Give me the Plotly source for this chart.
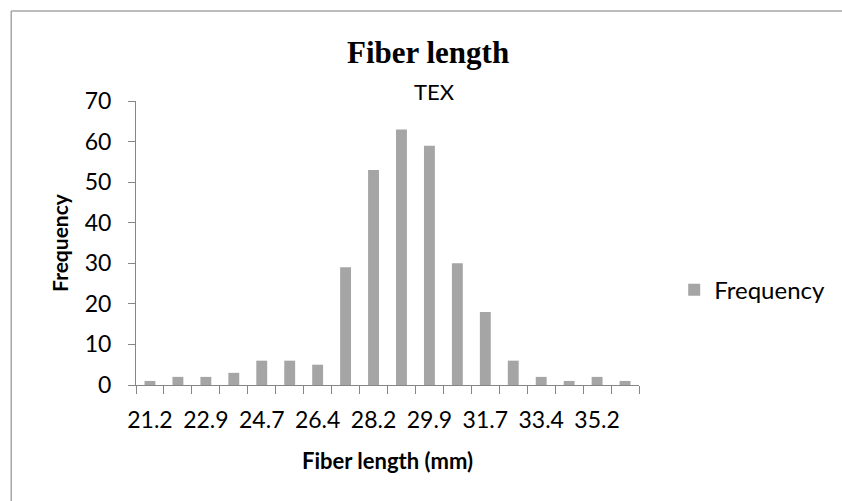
import plotly.graph_objects as go

# Fiber length classes (mm) and counts per class
length_mm = ["21.2", "22.1", "22.9", "23.8", "24.7", "25.6", "26.4", "27.3", "28.2",
             "29.0", "29.9", "30.8", "31.7", "32.5", "33.4", "34.3", "35.2", "36.0"]
frequency = [1, 2, 2, 3, 6, 6, 5, 29, 53, 63, 59, 30, 18, 6, 2, 1, 2, 1]

# Only every other class gets a label on the axis
tick_text = [lab if i % 2 == 0 else "" for i, lab in enumerate(length_mm)]

BAR = "#a5a5a5"
AXIS = "#868686"
FRAME = "#a6a6a6"
SANS = "Lato"

# plot area in pixels: x 136..644, y 101..385
def px_x(p):
    return (p - 136) / 508

def px_y(p):
    return (385 - p) / 284

fig = go.Figure()
fig.add_trace(go.Bar(
    x=length_mm, y=frequency, name="Frequency",
    marker=dict(color=BAR, line=dict(width=0)),
))

fig.update_layout(
    width=842, height=501,
    margin=dict(l=136, r=198, t=101, b=116),
    paper_bgcolor="white", plot_bgcolor="white",
    bargap=0.61,
    font=dict(family=SANS, color="black"),
    title=dict(
        text="<b>Fiber length</b>",
        font=dict(family="Liberation Serif", size=31, color="black"),
        x=px_x(431), xref="paper", xanchor="center",
        y=1 - 52 / 501, yanchor="middle",
    ),
    showlegend=True,
    legend=dict(
        x=1.07, xanchor="left", y=0.334, yanchor="middle",
        font=dict(family=SANS, size=24, color="black"),
        bgcolor="rgba(0,0,0,0)",
    ),
    annotations=[dict(
        text="TEX", xref="paper", yref="paper",
        x=px_x(437), y=px_y(91),
        xanchor="center", yanchor="middle", showarrow=False,
        font=dict(family=SANS, size=22, color="black"),
    )],
    # chart frame: top and left edges
    shapes=[
        dict(type="line", xref="paper", yref="paper",
             x0=px_x(10), x1=px_x(860), y0=px_y(11), y1=px_y(11),
             line=dict(color=FRAME, width=1.5), layer="below"),
        dict(type="line", xref="paper", yref="paper",
             x0=px_x(10), x1=px_x(10), y0=px_y(11), y1=px_y(520),
             line=dict(color=FRAME, width=1.5), layer="below"),
    ],
)

fig.update_xaxes(
    type="category",
    tickmode="array", tickvals=length_mm, ticktext=tick_text,
    tickangle=0,
    tickson="boundaries", ticks="outside", ticklen=8, tickcolor=AXIS, tickwidth=1,
    showline=True, linecolor=AXIS, linewidth=1,
    showgrid=False, zeroline=False,
    tickfont=dict(family=SANS, size=23, color="black"),
    ticklabelstandoff=14,
    title=dict(text="<b>Fiber length (mm)</b>", standoff=22,
               font=dict(family=SANS, size=22, color="black")),
)

fig.update_yaxes(
    range=[0, 70], dtick=10,
    ticks="outside", ticklen=7, tickcolor=AXIS, tickwidth=1,
    showline=True, linecolor=AXIS, linewidth=1,
    showgrid=False, zeroline=False,
    tickfont=dict(family=SANS, size=23, color="black"),
    ticklabelstandoff=12,
    title=dict(text="<b>Frequency</b>", standoff=10,
               font=dict(family=SANS, size=21, color="black")),
)

fig.write_html("out.html")
